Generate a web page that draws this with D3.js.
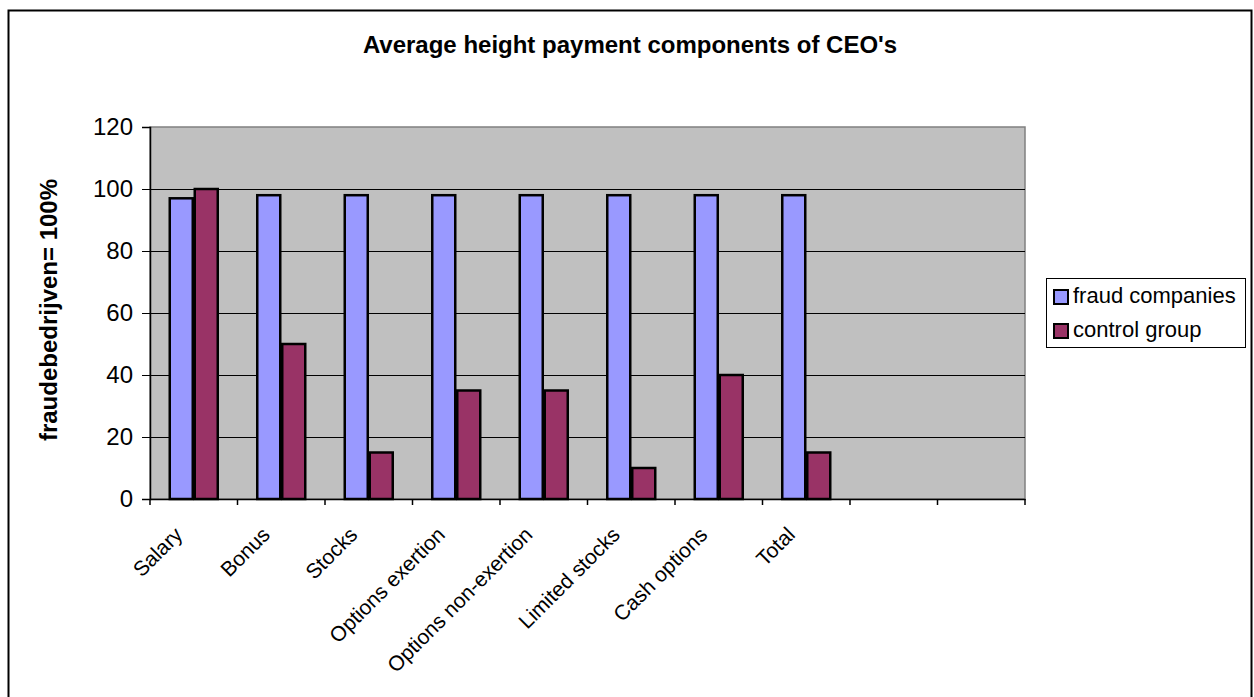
<!DOCTYPE html>
<html>
<head>
<meta charset="utf-8">
<script src="https://cdn.jsdelivr.net/npm/d3@7"></script>
<style>
  body { margin: 0; background: #fff; }
  svg { display: block; font-family: "Liberation Sans", Arial, sans-serif; }
</style>
</head>
<body>
<div id="chart"></div>
<script>
// data
const categories = ["Salary", "Bonus", "Stocks", "Options exertion", "Options non-exertion",
  "Limited stocks", "Cash options", "Total", "", " "]
const fraudValues = [97, 98, 98, 98, 98, 98, 98, 98]
const controlValues = [100, 50, 15, 35, 35, 10, 40, 15]
const seriesNames = ["fraud companies", "control group"]
const yTicks = [0, 20, 40, 60, 80, 100, 120]

const WIDTH = 1254, HEIGHT = 697
const MARGIN = { TOP: 127, LEFT: 150, RIGHT: 229, BOTTOM: 198 }
const plotW = WIDTH - MARGIN.LEFT - MARGIN.RIGHT
const plotH = HEIGHT - MARGIN.TOP - MARGIN.BOTTOM

const svg = d3.select("#chart").append("svg")
  .attr("width", WIDTH)
  .attr("height", HEIGHT)

// outer chart border
svg.append("rect")
  .attr("x", 8.5).attr("y", 10.5)
  .attr("width", 1243).attr("height", 700)
  .attr("fill", "none").attr("stroke", "#000").attr("stroke-width", 2)

svg.append("text")
  .attr("x", 630).attr("y", 53)
  .attr("text-anchor", "middle")
  .attr("font-size", 24).attr("font-weight", "bold")
  .text("Average height payment components of CEO's")

const g = svg.append("g")
  .attr("transform", `translate(${MARGIN.LEFT}, ${MARGIN.TOP})`)

// scales
const x0 = d3.scaleBand().domain(categories).range([0, plotW]).paddingInner(0).paddingOuter(0)
const x1 = d3.scaleBand().domain(seriesNames).range([18.75, x0.bandwidth() - 18.75])
const y = d3.scaleLinear().domain([0, 120]).range([plotH, 0])

g.append("rect")
  .attr("width", plotW).attr("height", plotH)
  .attr("fill", "#c0c0c0")
  .attr("stroke", "#808080").attr("stroke-width", 1.5)

// gridlines
g.selectAll(".grid")
  .data(yTicks.filter(d => d > 0 && d < 120))
  .enter().append("line")
  .attr("x1", 0).attr("x2", plotW)
  .attr("y1", d => Math.round(y(d)) + 0.5).attr("y2", d => Math.round(y(d)) + 0.5)
  .attr("stroke", "#000").attr("stroke-width", 1)

// y axis
const yAxis = g.append("g")
  .call(d3.axisLeft(y).tickValues(yTicks).tickSize(8).tickPadding(9))
yAxis.select(".domain").attr("stroke", "#000").attr("stroke-width", 1.5)
yAxis.selectAll("text").attr("font-size", 24).attr("font-family", "Liberation Sans, Arial, sans-serif")
  .attr("fill", "#000")

// bars
const colors = { "fraud companies": "#9999ff", "control group": "#993366" }
const rows = categories.slice(0, fraudValues.length).map((c, i) => ({
  cat: c,
  vals: [
    { key: seriesNames[0], v: fraudValues[i] },
    { key: seriesNames[1], v: controlValues[i] }
  ]
}))

const groups = g.selectAll(".grp")
  .data(rows)
  .enter().append("g")
  .attr("transform", d => `translate(${x0(d.cat)}, 0)`)

groups.selectAll("rect")
  .data(d => d.vals)
  .enter().append("rect")
  .attr("x", d => x1(d.key) + 1)
  .attr("width", x1.bandwidth() - 2)
  .attr("y", d => y(d.v))
  .attr("height", d => y(0) - y(d.v))
  .attr("fill", d => colors[d.key])
  .attr("stroke", "#000").attr("stroke-width", 2.5)

// x axis
const xAxis = g.append("g")
  .attr("transform", `translate(0, ${plotH})`)
  .call(d3.axisBottom(x0).tickSize(0).tickFormat(d => d.trim()))
xAxis.select(".domain").attr("stroke", "#000").attr("stroke-width", 1.5)
xAxis.selectAll("text")
  .attr("font-size", 21).attr("font-family", "Liberation Sans, Arial, sans-serif")
  .attr("fill", "#000")
  .attr("text-anchor", "end")
  .attr("y", 0).attr("dy", 0)
  .attr("transform", "translate(-10, 37) rotate(-45)")

// category separators below the axis
g.selectAll(".xtick")
  .data(categories.map(c => x0(c)).concat([plotW]))
  .enter().append("line")
  .attr("x1", d => d).attr("x2", d => d)
  .attr("y1", plotH).attr("y2", plotH + 6)
  .attr("stroke", "#000").attr("stroke-width", 1.5)

// y label
svg.append("text")
  .attr("transform", "translate(57, 310) rotate(-90)")
  .attr("text-anchor", "middle")
  .attr("font-size", 24).attr("font-weight", "bold")
  .text("fraudebedrijven= 100%")

// legend
const legend = svg.append("g").attr("transform", "translate(1046, 278)")
legend.append("rect")
  .attr("x", 0.5).attr("y", 0.5).attr("width", 199).attr("height", 69)
  .attr("fill", "#fff").attr("stroke", "#000").attr("stroke-width", 1)

const items = legend.selectAll(".item")
  .data(seriesNames)
  .enter().append("g")
  .attr("transform", (d, i) => `translate(0, ${i * 34})`)
items.append("rect")
  .attr("x", 8).attr("y", 12).attr("width", 14).attr("height", 14)
  .attr("fill", d => colors[d]).attr("stroke", "#000").attr("stroke-width", 2)
items.append("text")
  .attr("x", 27).attr("y", 25)
  .attr("font-size", 22)
  .text(d => d)
</script>
</body>
</html>
